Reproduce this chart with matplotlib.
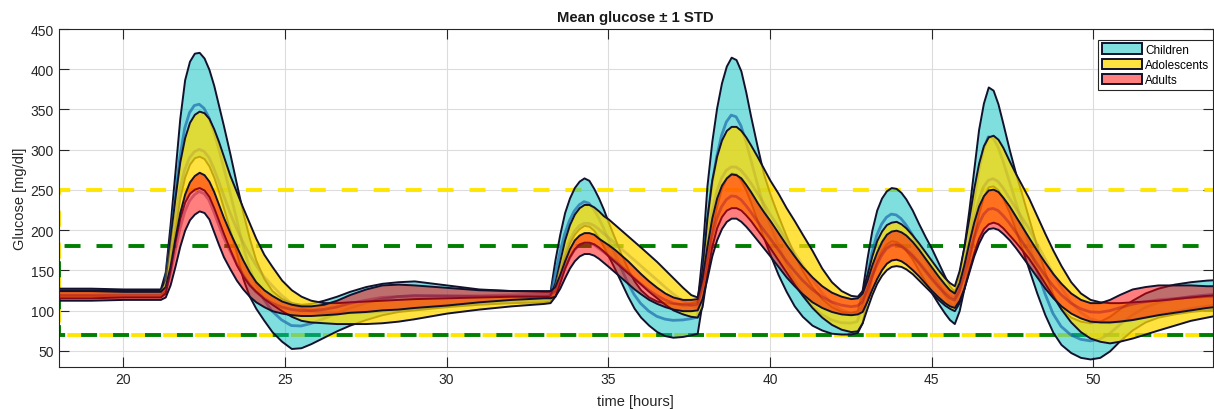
import matplotlib
matplotlib.use("Agg")
import numpy as np
import matplotlib.pyplot as plt

plt.rcParams.update({
    "font.family": ["Liberation Sans", "DejaVu Sans"],
    "lines.scale_dashes": False,
})

# time knots [hours] (flat start, then one line per meal response)
t = [18.0, 19.0, 20.0, 21.0, 21.15,
     21.3, 21.45, 21.6, 21.75, 21.9, 22.05, 22.2, 22.35, 22.5, 22.65, 22.8, 22.95, 23.1, 23.3,
     23.5, 23.7, 23.9, 24.1, 24.35, 24.6, 24.9, 25.2, 25.5, 25.8, 26.2, 26.6, 27.0, 27.5, 28.0,
     28.5, 29.0, 30.0, 31.0, 32.0, 33.0, 33.2,
     33.35, 33.5, 33.65, 33.8, 33.95, 34.1, 34.25, 34.4, 34.55, 34.7, 34.85, 35.0, 35.2, 35.4,
     35.6, 35.8, 36.0, 36.25, 36.5, 36.75, 37.0, 37.3, 37.55, 37.75,
     37.9, 38.05, 38.2, 38.35, 38.5, 38.65, 38.8, 38.95, 39.1, 39.25, 39.4, 39.6, 39.8, 40.0,
     40.25, 40.5, 40.75, 41.0, 41.3, 41.6, 41.9, 42.2, 42.5, 42.7,
     42.85, 43.0, 43.15, 43.3, 43.45, 43.6, 43.75, 43.9, 44.05, 44.2, 44.4, 44.6, 44.8, 45.0,
     45.2, 45.4, 45.55, 45.7,
     45.85, 46.0, 46.15, 46.3, 46.45, 46.6, 46.75, 46.9, 47.05, 47.2, 47.4, 47.6, 47.8, 48.0,
     48.25, 48.5, 48.75, 49.0, 49.3, 49.6, 49.9, 50.2, 50.5, 50.8, 51.2, 51.6, 52.0, 52.5,
     53.0, 53.5, 54.0]

# mean + 1 STD and mean - 1 STD per group [mg/dl]
children_hi = [128, 128, 127, 127, 127,
               148, 207, 272, 339, 387, 410, 420, 421, 414, 400, 380, 355, 330, 295,
               258, 222, 190, 163, 140, 125, 115, 110, 108, 109, 113, 118, 124, 130, 134,
               136, 137, 132, 127, 125, 124, 124,
               163, 195, 222, 240, 253, 261, 265, 262, 252, 240, 226, 210, 190, 170,
               152, 137, 126, 117, 112, 110, 109, 109, 110, 112,
               170, 255, 310, 352, 383, 404, 415, 412, 398, 372, 342, 305, 270, 245,
               218, 193, 170, 150, 130, 115, 105, 99, 98, 100,
               125, 165, 200, 225, 240, 249, 253, 252, 247, 239, 225, 208, 192, 177,
               160, 143, 131, 124,
               145, 180, 225, 275, 325, 358, 378, 374, 357, 333, 300, 270, 243, 215,
               180, 148, 120, 103, 92, 87, 85, 87, 93, 102, 113, 122, 128, 133,
               136, 138, 139]
children_lo = [119, 119, 118, 118, 118,
               125, 160, 200, 240, 266, 282, 290, 292, 289, 280, 266, 248, 228, 200,
               172, 140, 118, 103, 88, 74, 62, 53, 54, 59, 67, 75, 82, 89, 95,
               99, 101, 105, 108, 110, 111, 112,
               125, 148, 168, 184, 195, 202, 206, 205, 200, 191, 180, 168, 152, 135,
               118, 103, 92, 82, 74, 69, 67, 68, 70, 72,
               110, 160, 200, 230, 252, 265, 271, 270, 262, 250, 235, 213, 191, 170,
               145, 124, 106, 93, 82, 76, 72, 71, 71, 73,
               85, 115, 142, 162, 175, 183, 187, 186, 182, 175, 164, 150, 136, 122,
               109, 97, 89, 84,
               100, 128, 160, 192, 220, 242, 254, 255, 250, 240, 222, 200, 176, 152,
               122, 95, 73, 58, 48, 42, 40, 42, 50, 62, 76, 86, 92, 96,
               99, 101, 103]
adolescents_hi = [126, 126, 126, 126, 126,
                  140, 190, 240, 285, 315, 334, 344, 348, 346, 339, 326, 310, 292, 268,
                  248, 228, 209, 190, 170, 155, 138, 126, 118, 113, 110, 110, 111, 112, 113,
                  114, 115, 116, 117, 118, 118, 118,
                  135, 162, 188, 207, 220, 228, 232, 232, 229, 224, 218, 214, 207, 200,
                  193, 186, 179, 170, 161, 151, 141, 129, 120, 117,
                  150, 215, 262, 292, 312, 324, 329, 329, 324, 316, 306, 292, 277, 262,
                  246, 228, 212, 195, 175, 153, 136, 125, 119, 118,
                  125, 145, 168, 187, 199, 207, 210, 211, 208, 203, 194, 184, 173, 162,
                  151, 141, 135, 131,
                  150, 180, 215, 252, 283, 305, 316, 318, 313, 303, 286, 270, 255, 240,
                  218, 196, 175, 156, 136, 122, 114, 111, 110, 110, 111, 112, 113, 115,
                  117, 119, 120]
adolescents_lo = [116, 116, 117, 117, 117,
                  122, 150, 185, 215, 235, 246, 251, 253, 250, 242, 228, 212, 196, 176,
                  157, 143, 132, 124, 115, 108, 100, 93, 88, 86, 85, 84, 84, 84, 85,
                  87, 90, 97, 102, 106, 109, 110,
                  118, 135, 153, 167, 177, 183, 185, 185, 183, 179, 174, 168, 161, 154,
                  147, 140, 133, 124, 116, 108, 101, 96, 93, 92,
                  105, 145, 180, 203, 217, 225, 228, 228, 225, 219, 212, 201, 190, 178,
                  163, 148, 133, 119, 104, 92, 83, 77, 74, 75,
                  85, 103, 120, 134, 144, 151, 155, 156, 155, 152, 146, 138, 130, 122,
                  114, 107, 103, 100,
                  110, 128, 150, 172, 190, 202, 208, 210, 208, 203, 194, 185, 175, 165,
                  150, 134, 118, 102, 86, 74, 66, 62, 60, 62, 66, 71, 76, 82,
                  88, 92, 96]
adults_hi = [125, 125, 124, 124, 124,
             130, 155, 190, 222, 245, 260, 268, 272, 269, 261, 248, 232, 216, 197,
             180, 163, 148, 136, 126, 119, 112, 108, 106, 106, 108, 113, 120, 127, 132,
             133, 132, 129, 126, 125, 125, 125,
             130, 145, 162, 177, 188, 194, 197, 197, 195, 190, 186, 182, 176, 169,
             162, 154, 146, 137, 129, 122, 117, 114, 114, 115,
             140, 180, 215, 240, 256, 265, 270, 269, 265, 257, 248, 235, 223, 212,
             197, 182, 168, 155, 142, 131, 123, 118, 115, 116,
             122, 138, 157, 173, 186, 195, 199, 200, 198, 194, 186, 176, 165, 154,
             143, 133, 126, 122,
             135, 158, 185, 210, 230, 243, 250, 251, 248, 241, 230, 217, 204, 191,
             175, 160, 146, 134, 122, 114, 110, 110, 114, 120, 127, 130, 132, 132,
             132, 131, 131]
adults_lo = [113, 113, 114, 114, 114,
             117, 132, 155, 180, 200, 213, 220, 224, 222, 214, 198, 182, 167, 152,
             138, 127, 118, 111, 105, 100, 97, 95, 94, 94, 95, 96, 98, 99, 101,
             102, 104, 107, 111, 114, 116, 116,
             118, 128, 141, 153, 162, 168, 171, 171, 169, 165, 160, 155, 148, 141,
             134, 127, 121, 114, 109, 105, 102, 100, 100, 101,
             115, 140, 168, 188, 202, 211, 215, 215, 211, 205, 198, 188, 178, 168,
             155, 142, 131, 121, 111, 104, 99, 96, 95, 96,
             99, 112, 127, 140, 151, 159, 163, 164, 162, 158, 151, 143, 134, 125,
             117, 110, 106, 104,
             113, 128, 148, 168, 184, 196, 202, 203, 201, 196, 188, 178, 167, 156,
             142, 128, 116, 106, 97, 91, 87, 86, 86, 87, 89, 92, 95, 98,
             101, 104, 106]

groups = ["Children", "Adolescents", "Adults"]
thresholds = [70, 180, 250]

x = np.array(t)
bands = [(children_lo, children_hi), (adolescents_lo, adolescents_hi), (adults_lo, adults_hi)]
face = [(0.0, 0.75, 0.75, 0.5), (1.0, 0.85, 0.0, 0.75), (1.0, 0.0, 0.0, 0.5)]
mean_col = [(0.1, 0.42, 0.68, 0.7), (0.72, 0.62, 0.2, 0.45), (0.6, 0.05, 0.2, 0.4)]
edge = "#12122e"

fig = plt.figure(figsize=(12.14, 4.10), dpi=100)
ax = fig.add_axes([0.0482, 0.1024, 0.951, 0.8244])

# threshold lines (dashed), drawn under the translucent bands
x0, x1 = 18, 54
dash = (11.5, 11.5)
yel, grn = "#ffe600", "#008000"
ax.plot([x0, x0, x1], [thresholds[0], thresholds[2], thresholds[2]], color=yel, lw=2.8,
        linestyle=(14.0, dash), zorder=1.5)
ax.plot([x0, x1], [thresholds[0], thresholds[0]], color=yel, lw=2.8,
        linestyle=(17.0, dash), zorder=1.5)
ax.plot([x0, x1], [thresholds[1], thresholds[1]], color=grn, lw=2.8,
        linestyle=(19.0, dash), zorder=1.6)
ax.plot([x0, x0, x1], [thresholds[1], thresholds[0], thresholds[0]], color=grn, lw=2.8,
        linestyle=(12.0, dash), zorder=1.6)

for (lo, hi), fc, mc, name in zip(bands, face, mean_col, groups):
    lo = np.array(lo, dtype=float)
    hi = np.array(hi, dtype=float)
    ax.fill_between(x, lo, hi, facecolor=fc, edgecolor=edge, linewidth=1.4,
                    label=name, zorder=2)
    ax.plot(x, (lo + hi) / 2, color=mc, lw=2.0, zorder=2)

ax.set_xlim(18, 53.7)
ax.set_ylim(30, 450)
ax.set_xticks([20, 25, 30, 35, 40, 45, 50])
ax.set_yticks(np.arange(50, 451, 50))
ax.grid(True, color="#dcdcdc", lw=0.8, zorder=0)
ax.set_axisbelow(True)
ax.tick_params(direction="in", top=True, right=True, length=7, width=0.8,
               colors="#262626", labelsize=10)
for s in ax.spines.values():
    s.set_color("#262626")
    s.set_linewidth(0.8)

ax.set_title("Mean glucose \u00b1 1 STD", fontsize=10.7, fontweight="bold", color="#1a1a1a", pad=6)
ax.set_xlabel("time [hours]", fontsize=10.5, color="#262626", labelpad=6)
ax.set_ylabel("Glucose [mg/dl]", fontsize=10.5, color="#262626", labelpad=2.5)

leg = ax.legend(loc="upper right", bbox_to_anchor=(1.0, 0.968), borderaxespad=0,
                fontsize=8.5, fancybox=False, framealpha=1, edgecolor="#262626",
                handlelength=3.4, handleheight=1.0, labelspacing=0.25,
                handletextpad=0.3, borderpad=0.3)
leg.get_frame().set_linewidth(0.8)
leg.set_zorder(5)

fig.savefig("out.png", dpi=100)
